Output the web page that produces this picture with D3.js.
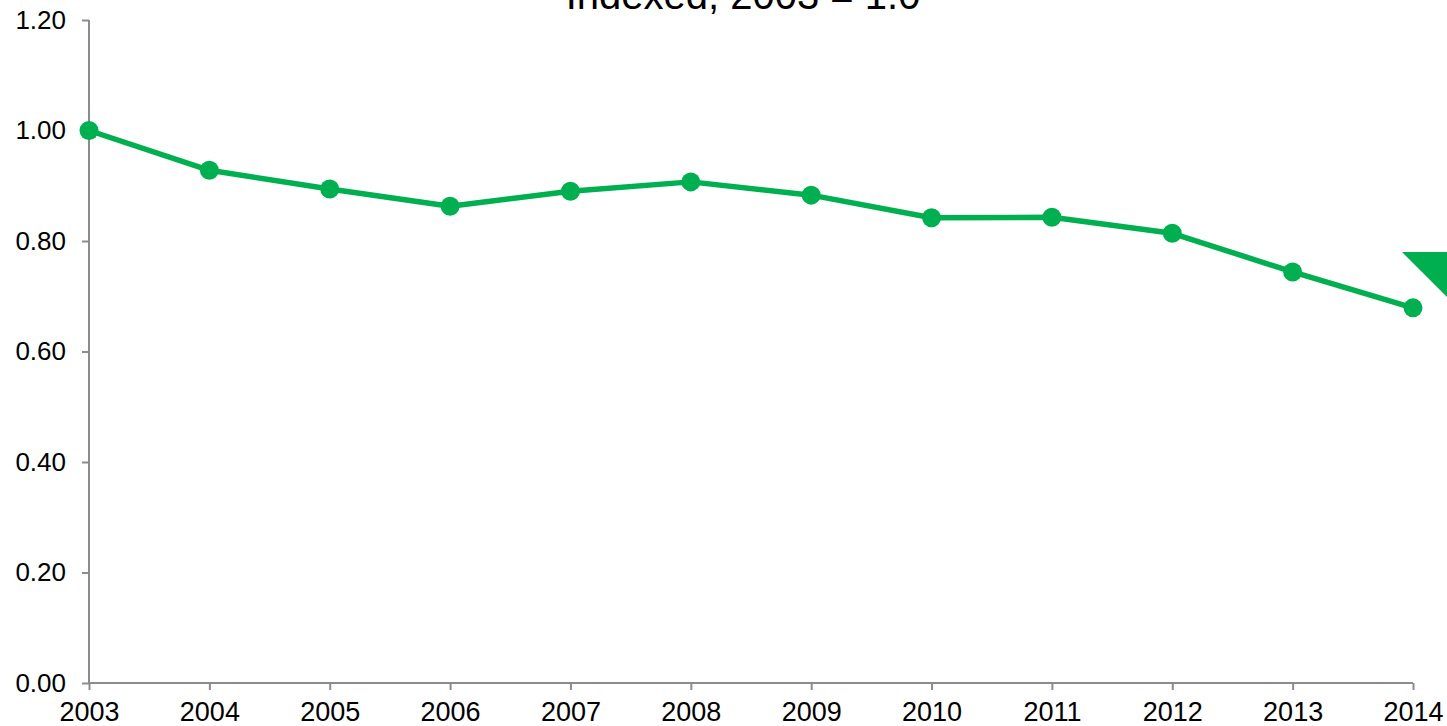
<!DOCTYPE html>
<html>
<head>
<meta charset="utf-8">
<script src="https://cdn.jsdelivr.net/npm/d3@7/dist/d3.min.js"></script>
<style>
  html, body { margin: 0; padding: 0; background: #fff; overflow: hidden; }
  svg { display: block; font-family: "Liberation Sans", Arial, sans-serif; }
</style>
</head>
<body>
<svg id="chart" width="1447" height="726"></svg>
<script>
// Index values (2003 = 1.0)
const years = [2003, 2004, 2005, 2006, 2007, 2008, 2009, 2010, 2011, 2012, 2013, 2014];
const indexValues = [1.00, 0.928, 0.894, 0.863, 0.890, 0.907, 0.883, 0.842, 0.843, 0.814, 0.744, 0.679];
const yTicks = [0, 0.2, 0.4, 0.6, 0.8, 1.0, 1.2];
const title = "Indexed, 2003 = 1.0";

const W = 1447, H = 726;
const margin = { top: 20, right: 34, bottom: 43, left: 89 };
const green = "#00b050";
const axisGrey = "#8c8c8c";

const svg = d3.select("#chart");

const x = d3.scalePoint()
  .domain(years)
  .range([margin.left, W - margin.right]);

const y = d3.scaleLinear()
  .domain([0, 1.2])
  .range([H - margin.bottom, margin.top]);

// Title, partly above the top edge
svg.append("text")
  .attr("x", 743)
  .attr("y", 9)
  .attr("text-anchor", "middle")
  .attr("font-size", 40)
  .attr("fill", "#000")
  .text(title);

// Y axis
const yAxis = svg.append("g")
  .attr("transform", `translate(${margin.left},0)`)
  .call(d3.axisLeft(y).tickValues(yTicks).tickFormat(d3.format(".2f")).tickSize(7).tickPadding(16));

// X axis
const xAxis = svg.append("g")
  .attr("transform", `translate(0,${H - margin.bottom})`)
  .call(d3.axisBottom(x).tickSize(7).tickPadding(12).tickFormat(d => String(d)));

[yAxis, xAxis].forEach(g => {
  g.select(".domain").attr("stroke", axisGrey).attr("stroke-width", 2);
  g.selectAll(".tick line").attr("stroke", axisGrey).attr("stroke-width", 2);
  g.selectAll(".tick text").attr("font-size", 27).attr("fill", "#000")
    .attr("font-family", "'Liberation Sans', Arial, sans-serif");
});
yAxis.selectAll(".tick text").attr("font-size", 26);
// straight axis lines without outer tick hooks
yAxis.select(".domain").attr("d", `M0,${y(1.2)}V${y(0)}`);
xAxis.select(".domain").attr("d", `M${margin.left},0H${W - margin.right}`);

// Line
const line = d3.line()
  .x((d, i) => x(years[i]))
  .y(d => y(d));

svg.append("path")
  .datum(indexValues)
  .attr("fill", "none")
  .attr("stroke", green)
  .attr("stroke-width", 5.5)
  .attr("stroke-linejoin", "round")
  .attr("d", line);

svg.append("g")
  .selectAll("circle")
  .data(indexValues)
  .join("circle")
  .attr("cx", (d, i) => x(years[i]))
  .attr("cy", d => y(d))
  .attr("r", 9.5)
  .attr("fill", green);

// Downward trend marker at the right edge
const tx = x(2014) + 34, ty = y(0.78);
svg.append("path")
  .attr("d", `M${tx - 45},${ty}L${tx + 45},${ty}L${tx},${ty + 45}Z`)
  .attr("fill", green);
</script>
</body>
</html>
